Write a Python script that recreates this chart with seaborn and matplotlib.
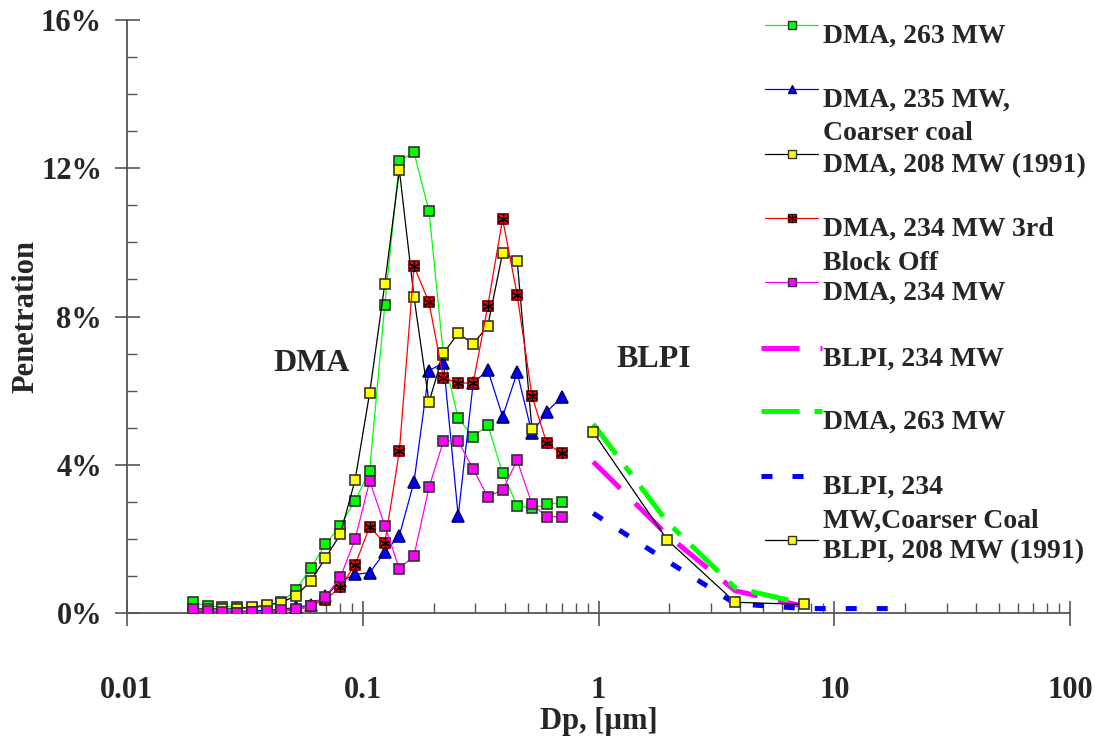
"""
Penetration vs particle diameter (DMA / BLPI) -- recreated with seaborn.
"""
import matplotlib
matplotlib.use("Agg")
import matplotlib.pyplot as plt
import numpy as np
import seaborn as sns
from matplotlib.lines import Line2D
from matplotlib.ticker import FuncFormatter, LogLocator, MultipleLocator

# ---------------------------------------------------------------------------
# Data, penetration in %
# ---------------------------------------------------------------------------
dp_dma = [0.0190, 0.0220, 0.0254, 0.0293, 0.0338, 0.0391, 0.0451, 0.0521,
          0.0602, 0.0695, 0.0803, 0.0928, 0.107, 0.124, 0.143, 0.165,
          0.191, 0.220, 0.254, 0.294, 0.339, 0.392, 0.452, 0.522, 0.603, 0.697]

dma_263 = [0.30, 0.18, 0.17, 0.17, 0.13, 0.18, 0.30, 0.62, 1.21, 1.85, 2.36,
           3.03, 3.84, 8.31, 12.20, 12.43, 10.84, 6.95, 5.25, 4.76, 5.07,
           3.77, 2.90, 2.83, 2.93, 2.99]
dma_235_coarse = [0.05, 0.05, 0.05, 0.05, 0.05, 0.08, 0.10, 0.15, 0.22, 0.45,
                  0.85, 1.04, 1.09, 1.64, 2.09, 3.54, 6.54, 6.75, 2.62, 6.20,
                  6.56, 5.30, 6.49, 4.85, 5.43, 5.82]
dma_208_1991 = [0.10, 0.12, 0.10, 0.12, 0.15, 0.22, 0.28, 0.47, 0.86, 1.49,
                2.12, 3.59, 5.94, 8.87, 11.95, 8.52, 5.69, 7.01, 7.55, 7.26,
                7.74, 9.72, 9.50, 4.96]
dma_234_block = [0.02, 0.02, 0.00, 0.00, 0.02, 0.03, 0.05, 0.08, 0.18, 0.36,
                 0.70, 1.30, 2.33, 1.88, 4.37, 9.36, 8.38, 6.33, 6.21, 6.20,
                 8.28, 10.63, 8.58, 5.86, 4.58, 4.31]
dma_234 = [0.11, 0.05, 0.02, 0.01, 0.02, 0.05, 0.08, 0.10, 0.20, 0.44, 0.96,
           1.99, 3.56, 2.36, 1.19, 1.55, 3.39, 4.64, 4.64, 3.88, 3.14, 3.32,
           4.12, 2.94, 2.60, 2.60]

dp_blpi = [0.95, 1.96, 3.80, 7.46]
blpi_234 = [4.08, 2.10, 0.60, 0.18]
blpi_dma_263 = [5.10, 2.45, 0.68, 0.25]
blpi_208_1991 = [4.88, 1.97, 0.29, 0.23]
dp_blpi_coarse = [0.95, 1.96, 3.80, 7.46, 20.0]
blpi_234_coarse = [2.69, 1.40, 0.25, 0.12, 0.12]

LABELS = [
    "DMA, 263 MW",
    "DMA, 235 MW,\nCoarser coal",
    "DMA, 208 MW (1991)",
    "DMA, 234 MW 3rd\nBlock Off",
    "DMA, 234 MW",
    "BLPI, 234 MW",
    "DMA, 263 MW",
    "BLPI, 234\nMW,Coarser Coal",
    "BLPI, 208 MW (1991)",
]

# ---------------------------------------------------------------------------
# Style
# ---------------------------------------------------------------------------
sns.set_style("ticks")
plt.rcParams["font.family"] = ["Liberation Serif", "DejaVu Serif"]
plt.rcParams["font.weight"] = "bold"

W, H = 1095, 738
fig = plt.figure(figsize=(W / 100, H / 100), dpi=100)
ax = fig.add_axes([127 / W, (H - 613) / H, (1070 - 127) / W, (613 - 20) / H])

EDGE = "#333333"
LONG_DASH = (0, (7.6, 4.2))
DASH_DOT = (0, (7.6, 3.0, 2.0, 3.0))
SHORT_DASH = (0, (2.2, 4.0))
THICK = 3.6

styles = [
    dict(color="#00ff00", marker="s", mfc="#00ff00", ms=7.5, mec=EDGE, lw=0.9, ls="-"),
    dict(color="#0000ff", marker="^", mfc="#0000ff", ms=8.5, mec="#000066", lw=0.9, ls="-"),
    dict(color="black", marker="s", mfc="#ffff00", ms=7.5, mec=EDGE, lw=0.9, ls="-"),
    dict(color="#ff0000", marker="s", mfc="#ff0000", ms=7.5, mec="#660000", lw=0.9, ls="-"),
    dict(color="#ff00ff", marker="s", mfc="#ff00ff", ms=7.5, mec=EDGE, lw=0.9, ls="-"),
    dict(color="#ff00ff", marker=None, lw=THICK, ls=LONG_DASH),
    dict(color="#00ff00", marker=None, lw=THICK, ls=DASH_DOT),
    dict(color="#0000ff", marker=None, lw=THICK, ls=SHORT_DASH),
    dict(color="black", marker="s", mfc="#ffff00", ms=7.5, mec=EDGE, lw=0.9, ls="-"),
]

series = [
    (dp_dma, dma_263),
    (dp_dma, dma_235_coarse),
    (dp_dma[:len(dma_208_1991)], dma_208_1991),
    (dp_dma, dma_234_block),
    (dp_dma, dma_234),
    (dp_blpi, blpi_234),
    (dp_blpi, blpi_dma_263),
    (dp_blpi_coarse, blpi_234_coarse),
    (dp_blpi, blpi_208_1991),
]

for i, ((xs, ys), st) in enumerate(zip(series, styles)):
    kw = dict(color=st["color"], linewidth=st["lw"], linestyle=st["ls"],
              dashes=False, legend=False, zorder=3 + i)
    if st["marker"]:
        kw.update(marker=st["marker"], markersize=st["ms"],
                  markerfacecolor=st["mfc"], markeredgecolor=st["mec"],
                  markeredgewidth=1.2)
    sns.lineplot(x=xs, y=ys, ax=ax, sort=False, **kw)
    if i == 3:
        # asterisk drawn over the red squares
        ax.plot(xs, ys, linestyle="none", marker=(6, 2, 0), markersize=8,
                color="black", markeredgewidth=0.9, zorder=3 + i)

# ---------------------------------------------------------------------------
# Axes
# ---------------------------------------------------------------------------
ax.set_xscale("log")
ax.set_xlim(0.01, 100)
ax.set_ylim(0, 16)
ax.xaxis.set_major_locator(LogLocator(base=10))
ax.xaxis.set_minor_locator(LogLocator(base=10, subs=np.arange(2, 10)))
ax.xaxis.set_major_formatter(FuncFormatter(lambda v, _: f"{v:g}"))
ax.xaxis.set_minor_formatter(FuncFormatter(lambda v, _: ""))
ax.yaxis.set_major_locator(MultipleLocator(4))
ax.yaxis.set_minor_locator(MultipleLocator(1))
ax.yaxis.set_major_formatter(FuncFormatter(lambda v, _: f"{v:.0f}%"))

for side in ("top", "right"):
    ax.spines[side].set_visible(False)
for side in ("left", "bottom"):
    ax.spines[side].set_color("#555555")
    ax.spines[side].set_linewidth(1.3)

ax.tick_params(which="major", direction="inout", length=18, width=1.2,
               color="#555555", labelsize=22)
ax.tick_params(which="minor", direction="in", length=7, width=1.0,
               color="#555555")
ax.tick_params(axis="x", which="major", pad=36)
ax.tick_params(axis="y", which="major", pad=9)

ax.set_xlabel("Dp, [µm]", fontsize=22, fontweight="bold", labelpad=2)
ax.set_ylabel("Penetration", fontsize=22, fontweight="bold", labelpad=0)

ax.text(0.0607, 6.72, "DMA", ha="center", va="center", fontsize=23,
        fontweight="bold")
ax.text(1.72, 6.83, "BLPI", ha="center", va="center", fontsize=23,
        fontweight="bold")

# ---------------------------------------------------------------------------
# Legend (drawn by hand: fixed spacing, wrapped labels overflow downward)
# ---------------------------------------------------------------------------
handle_y = [25, 89, 154, 218, 282, 348, 411, 476, 540]
for label, st, hy in zip(LABELS, styles, handle_y):
    yf = 1 - hy / H
    if st["marker"]:
        x0, x1 = 765 / W, 818 / W
    else:
        x0, x1 = 761 / W, 822 / W
    ln = Line2D([x0, x1], [yf, yf], transform=fig.transFigure,
                color=st["color"], linewidth=st["lw"], linestyle=st["ls"])
    fig.add_artist(ln)
    if st["marker"]:
        mk = Line2D([(x0 + x1) / 2], [yf], transform=fig.transFigure,
                    linestyle="none", marker=st["marker"], markersize=6,
                    markerfacecolor=st["mfc"], markeredgecolor=st["mec"],
                    markeredgewidth=1.0)
        fig.add_artist(mk)
        if st["color"] == "#ff0000":
            fig.add_artist(Line2D([(x0 + x1) / 2], [yf],
                                  transform=fig.transFigure, linestyle="none",
                                  marker=(6, 2, 0), markersize=6.5,
                                  color="black", markeredgewidth=0.8))
    for k, line in enumerate(label.split("\n")):
        fig.text(823 / W, 1 - (hy + 18 + k * 33.5) / H, line, fontsize=20,
                 fontweight="bold", ha="left", va="baseline")

fig.savefig("out.png", dpi=100)
